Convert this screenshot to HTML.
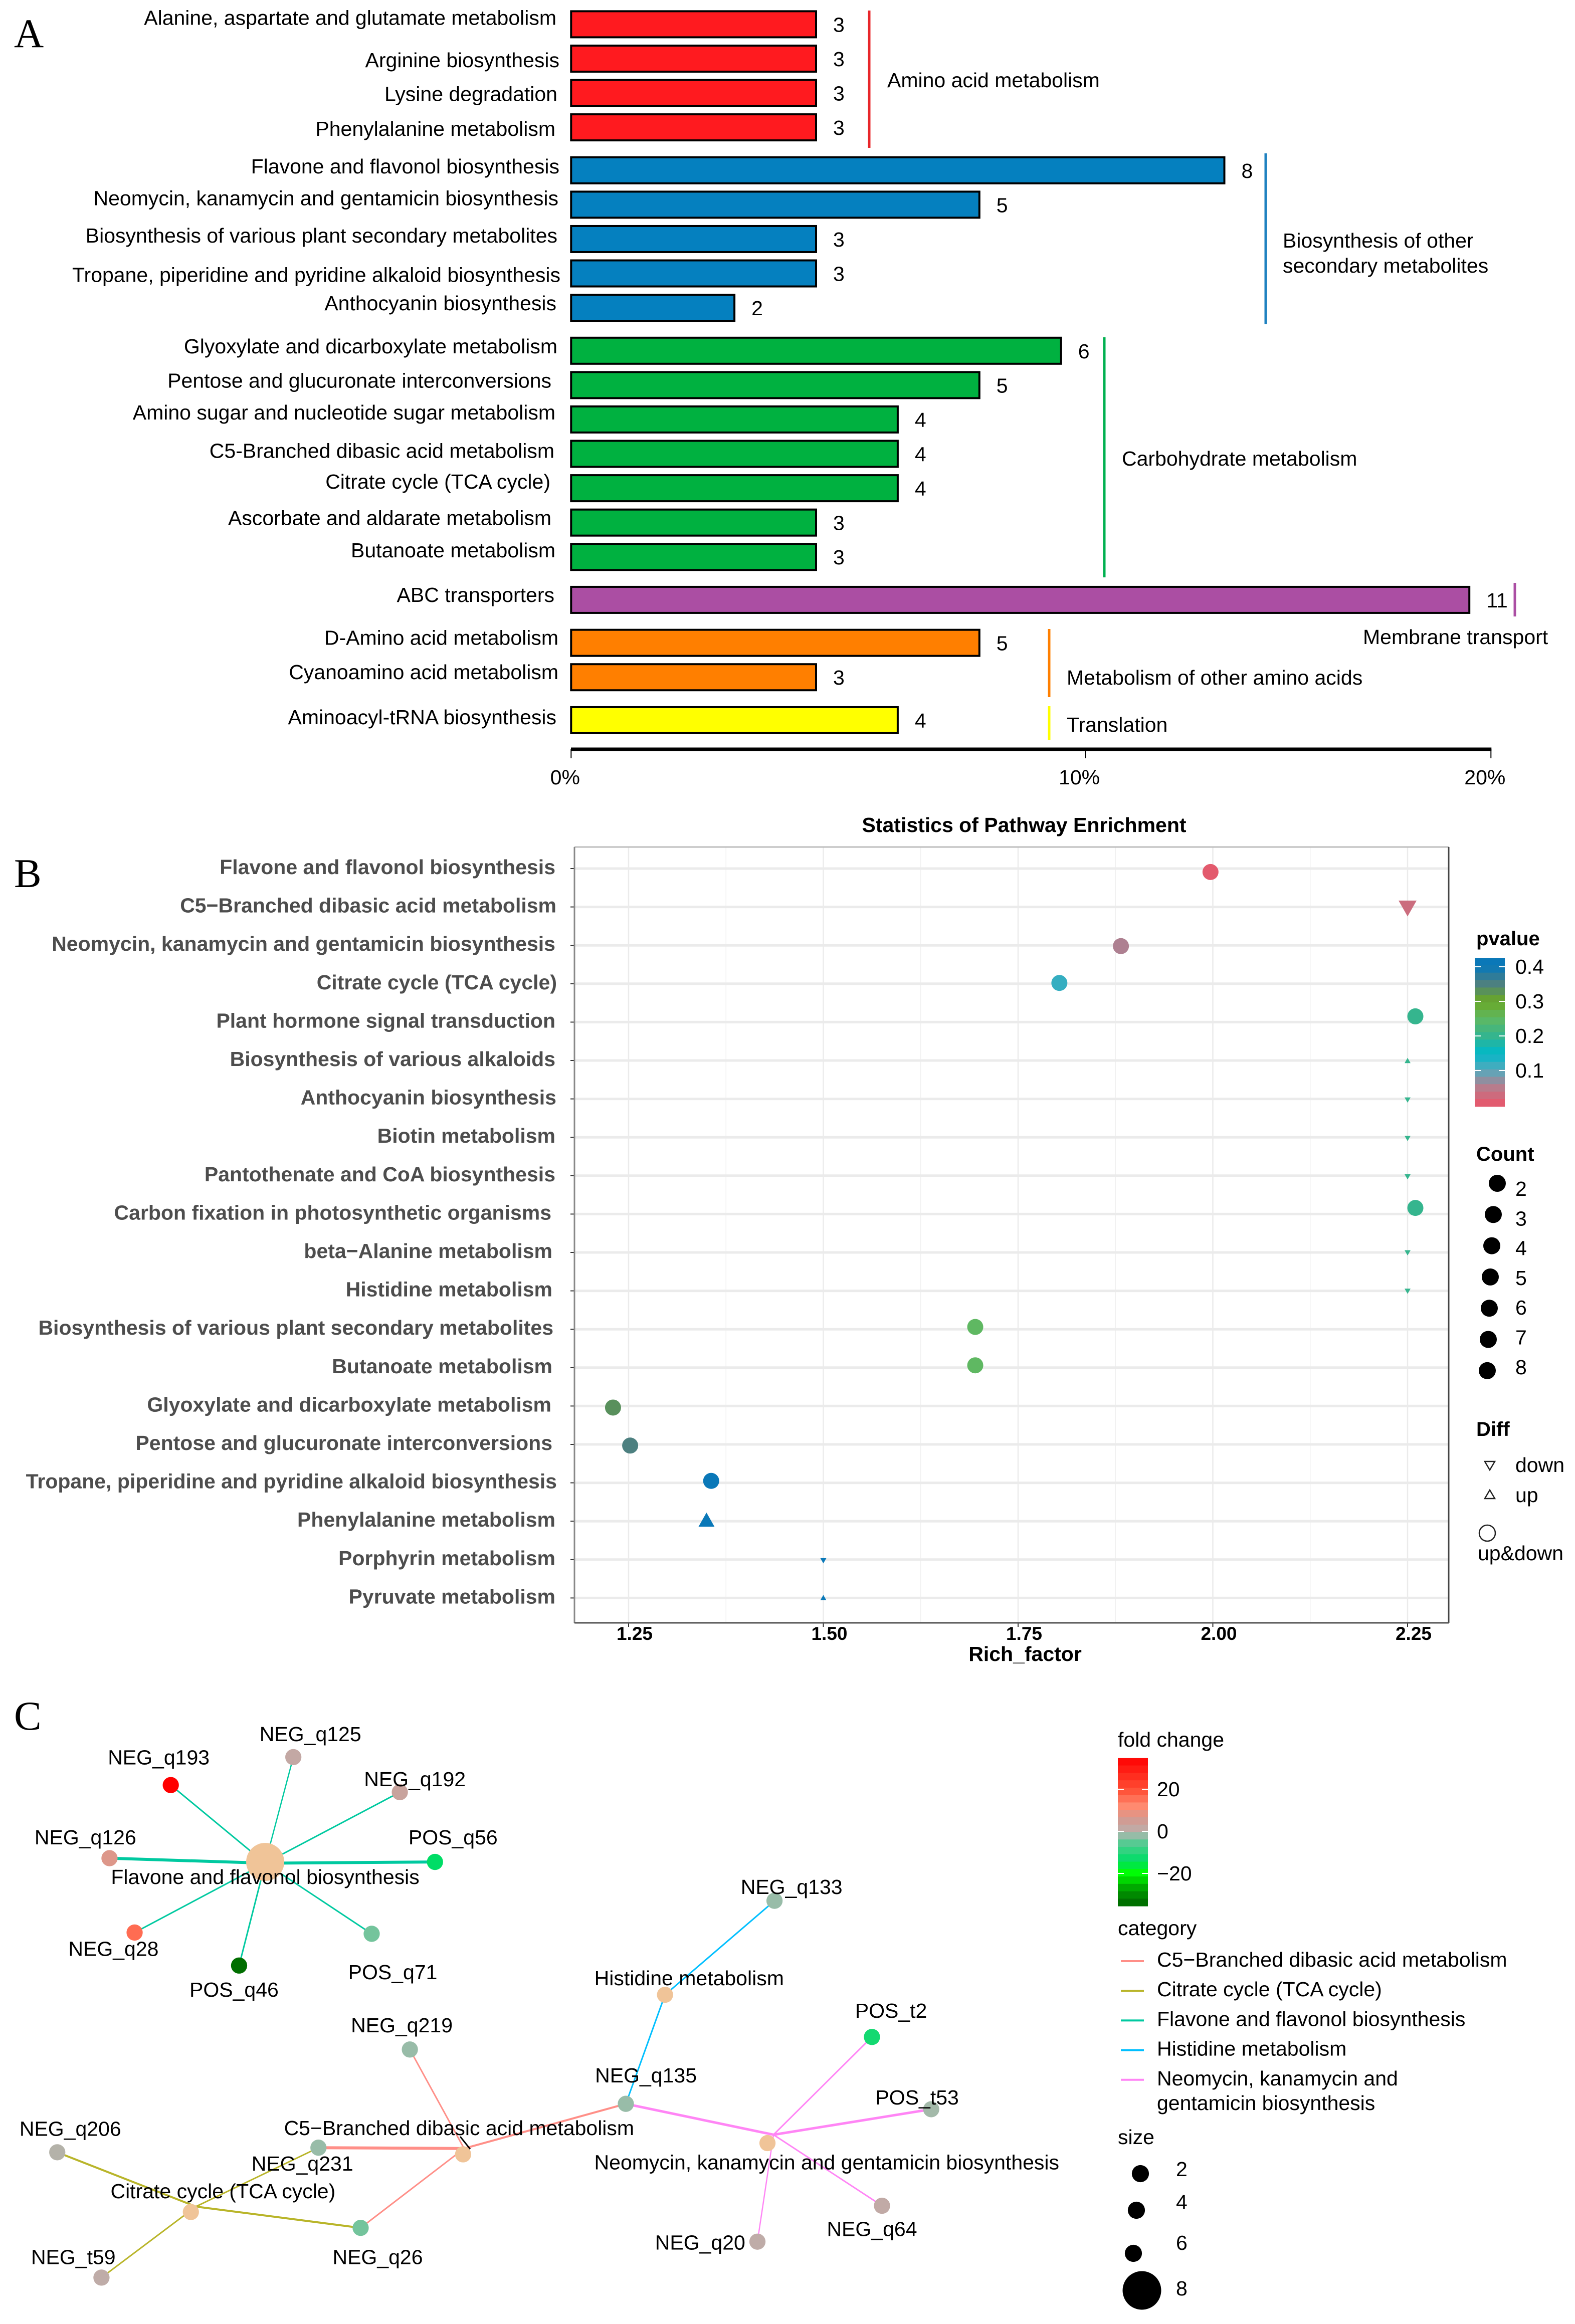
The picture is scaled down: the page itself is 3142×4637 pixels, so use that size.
<!DOCTYPE html>
<html lang="en">
<head>
<meta charset="utf-8">
<title>Pathway enrichment figure</title>
<style>
html,body{margin:0;padding:0;background:#fff;}
svg{display:block;font-family:"Liberation Sans",Arial,sans-serif;}
text{fill:#000;font-size:41px;}
.letter{font-family:"Liberation Serif",serif;font-size:82px;}
.bold{font-weight:bold;}
</style>
</head>
<body>
<svg id="fig" xmlns="http://www.w3.org/2000/svg" width="3142" height="4637" viewBox="0 0 3142 4637">
  <rect x="0" y="0" width="3142" height="4637" fill="#fff"/>

  <!-- Panel letters -->
  <text class="letter" x="28" y="94">A</text>
  <text class="letter" x="28" y="1770">B</text>
  <text class="letter" x="28" y="3451">C</text>

  <!-- Panel A group brackets and labels -->
  <g stroke-width="5">
    <line x1="1734" y1="21" x2="1734" y2="295" stroke="#e8262a"/>
    <line x1="2525" y1="306" x2="2525" y2="647" stroke="#1f82c0"/>
    <line x1="2203" y1="673" x2="2203" y2="1152" stroke="#00b050"/>
    <line x1="3022" y1="1163" x2="3022" y2="1230" stroke="#ab4ea3"/>
    <line x1="2093" y1="1255" x2="2093" y2="1391" stroke="#ff7f00"/>
    <line x1="2093" y1="1409" x2="2093" y2="1477" stroke="#ffff00"/>
  </g>
  <text x="1770" y="174">Amino acid metabolism</text>
  <text x="2559" y="494">Biosynthesis of other</text>
  <text x="2559" y="544">secondary metabolites</text>
  <text x="2238" y="929">Carbohydrate metabolism</text>
  <text x="2719" y="1285">Membrane transport</text>
  <text x="2128" y="1366">Metabolism of other amino acids</text>
  <text x="2128" y="1460">Translation</text>

  <!-- Panel B static text -->
  <text class="bold" x="2043" y="1660" text-anchor="middle">Statistics of Pathway Enrichment</text>
  <text class="bold" x="2045" y="3314" text-anchor="middle">Rich_factor</text>
  <text class="bold" x="2945" y="1886" style="font-size:40px">pvalue</text>
  <text class="bold" x="2945" y="2316" style="font-size:40px">Count</text>
  <text class="bold" x="2945" y="2865" style="font-size:40px">Diff</text>
  <path d="M2962 2916 L2982 2916 L2972 2933 Z" fill="none" stroke="#222" stroke-width="2.5"/>
  <text x="3023" y="2937">down</text>
  <path d="M2962 2990 L2982 2990 L2972 2973 Z" fill="none" stroke="#222" stroke-width="2.5"/>
  <text x="3023" y="2997">up</text>
  <circle cx="2967" cy="3059" r="16" fill="none" stroke="#222" stroke-width="2.5"/>
  <text x="2948" y="3113">up&amp;down</text>

  <!-- Panel C static legend text -->
  <text x="2230" y="3485">fold change</text>
  <text x="2230" y="3861">category</text>
  <text x="2230" y="4278">size</text>
  <text x="2308" y="4210">gentamicin biosynthesis</text>
</svg>

<script>
/* ---------- Panel A data ---------- */
const barCategories = [
  "Alanine, aspartate and glutamate metabolism","Arginine biosynthesis","Lysine degradation","Phenylalanine metabolism",
  "Flavone and flavonol biosynthesis","Neomycin, kanamycin and gentamicin biosynthesis","Biosynthesis of various plant secondary metabolites","Tropane, piperidine and pyridine alkaloid biosynthesis","Anthocyanin biosynthesis",
  "Glyoxylate and dicarboxylate metabolism","Pentose and glucuronate interconversions","Amino sugar and nucleotide sugar metabolism","C5-Branched dibasic acid metabolism","Citrate cycle (TCA cycle)","Ascorbate and aldarate metabolism","Butanoate metabolism",
  "ABC transporters","D-Amino acid metabolism","Cyanoamino acid metabolism","Aminoacyl-tRNA biosynthesis"];
const barCounts = [3,3,3,3,8,5,3,3,2,6,5,4,4,4,3,3,11,5,3,4];
const barGroups = [0,0,0,0,1,1,1,1,1,2,2,2,2,2,2,2,3,4,4,5];
const groupColors = ["#ff1a1f","#0580bf","#00b140","#ab4ea3","#ff7f00","#ffff00"];
const percentTickLabels = ["0%","10%","20%"];
const percentTickValues = [0,11.18,20];
/* hand-placed label layout from the source figure */
const barLabelRight = [1110,1116,1112,1108,1116,1114,1112,1118,1110,1112,1100,1108,1106,1098,1100,1108,1106,1114,1114,1110];
const barLabelShift = [-13,3,2,3,-8,-13,-7,3,-9,-9,-9,-14,-6,-13,-9,-13,-10,-10,-10,-6];

/* ---------- Panel B data ---------- */
const dotCategories = [
  "Flavone and flavonol biosynthesis","C5\u2212Branched dibasic acid metabolism","Neomycin, kanamycin and gentamicin biosynthesis","Citrate cycle (TCA cycle)","Plant hormone signal transduction","Biosynthesis of various alkaloids","Anthocyanin biosynthesis","Biotin metabolism","Pantothenate and CoA biosynthesis","Carbon fixation in photosynthetic organisms","beta\u2212Alanine metabolism","Histidine metabolism","Biosynthesis of various plant secondary metabolites","Butanoate metabolism","Glyoxylate and dicarboxylate metabolism","Pentose and glucuronate interconversions","Tropane, piperidine and pyridine alkaloid biosynthesis","Phenylalanine metabolism","Porphyrin metabolism","Pyruvate metabolism"];
const dotRichFactor = [1.997,2.25,1.882,1.803,2.26,2.25,2.25,2.25,2.25,2.26,2.25,2.25,1.695,1.695,1.23,1.252,1.356,1.35,1.5,1.5];
const dotRowValue = [0.09,1.04,2.02,2.98,3.85,5,6.03,7.03,8.03,8.84,10.01,11.01,11.94,12.94,14.04,15.03,15.95,16.96,18.03,18.99];
const dotPvalue = [0.005,0.03,0.055,0.12,0.2,0.2,0.2,0.2,0.2,0.2,0.2,0.2,0.25,0.25,0.33,0.35,0.4,0.4,0.4,0.4];
const dotSize = [8,9,8,8,8,3,3,3,3,8,3,3,8,8,8,8,8,8,3,3];
const dotDiff = ["both","down","both","both","both","up","down","down","down","both","down","down","both","both","both","both","both","up","down","up"];
const richTickValues = [1.25,1.5,1.75,2,2.25];
const richTickLabels = ["1.25","1.50","1.75","2.00","2.25"];
const richMinorValues = [1.375,1.625,1.875,2.125];
const pvalueTicks = [0.4,0.3,0.2,0.1];
const pvalueTickLabels = ["0.4","0.3","0.2","0.1"];
const pvalueStopsAt = [0,0.05,0.1,0.15,0.2,0.25,0.3,0.35,0.4];
const pvalueStopsColor = ["#e8566a","#b87c8c","#58a8bc","#00b8c8","#35b58e","#5fb862","#6aa825","#4d8080","#0a78b8"];
const countLegendLabels = ["2","3","4","5","6","7","8"];
const bLabelRight = [1108,1110,1108,1111,1108,1108,1110,1108,1108,1100,1102,1102,1104,1102,1100,1102,1111,1108,1108,1108];

/* ---------- Panel C data ---------- */
const nodeLabels = ["Flavone and flavonol biosynthesis","NEG_q193","NEG_q125","NEG_q192","POS_q56","NEG_q126","NEG_q28","POS_q46","POS_q71",
  "Histidine metabolism","NEG_q133","NEG_q135","NEG_q219","NEG_q231","C5\u2212Branched dibasic acid metabolism","NEG_q26","NEG_q206","Citrate cycle (TCA cycle)","NEG_t59",
  "Neomycin, kanamycin and gentamicin biosynthesis","POS_t2","POS_t53","NEG_q64","NEG_q20"];
const nodeLayoutX = [264,170,292,398,433,109,134,238,370,662,771,623,408,317,461,359,57,190,101,764,868,927,878,754];
const nodeLayoutY = [462,278,211,295,462,453,631,710,634,780,555,1041,911,1146,1162,1338,1157,1300,1457,1135,881,1054,1285,1371];
const nodeFold = [null,35,1.5,3,-14,7,16,-34,-4,null,-2,-2,-2,-2,null,-4,0,null,0.5,null,-12,-1,1,0.5];
const nodeSizes = [8,3.4,3.4,3.4,3.4,3.4,3.4,3.4,3.4,3.4,3.4,3.4,3.4,3.4,3.4,3.4,3.4,3.4,3.4,3.4,3.4,3.4,3.4,3.4];
const nodeLabelX = [264,158,309,413,451,85,113,233,391,686,788,643,400,301,457,376,70,222,73,823,887,913,868,697];
const nodeLabelY = [498,212,156,264,403,403,670,768,726,740,522,973,853,1184,1099,1408,1101,1250,1408,1181,818,1026,1341,1373];
const edgeHubX = [264,264,264,264,264,264,264,264, 462,462,462,462, 195,195,195,195, 662,662, 770,770,770,770,770];
const edgeHubY = [465,465,465,465,465,465,465,465, 1148,1148,1148,1148, 1287,1287,1287,1287, 780,780, 1115,1115,1115,1115,1115];
const edgeLeaf = [1,2,3,4,5,6,7,8, 12,13,15,11, 16,13,15,18, 10,11, 11,20,21,22,23];
const edgeCategory = [2,2,2,2,2,2,2,2, 0,0,0,0, 1,1,1,1, 3,3, 4,4,4,4,4];
const edgeWeight = [3,2.5,3,6,6,3,3,3, 3,6,3,4, 4,3,4,3, 3,3, 5,3,5,3,2.5];
const categoryNames = ["C5\u2212Branched dibasic acid metabolism","Citrate cycle (TCA cycle)","Flavone and flavonol biosynthesis","Histidine metabolism","Neomycin, kanamycin and"];
const categoryColors = ["#ff8f88","#b9b52a","#00c9a0","#00bfff","#ff85f5"];
const foldTicks = [20,0,-20];
const foldTickLabels = ["20","0","\u221220"];
const foldStopsAt = [-36,-28,-20,-14,-6,-2,-0.5,0.5,5,12,20,35];
const foldStopsColor = ["#006000","#009900","#00ff00","#00dd66","#50cc90","#98bca8","#a8b8aa","#bfaca8","#d09c94","#ff8a70","#ff4d33","#ff0000"];
const sizeLegendLabels = ["2","4","6","8"];
const sizeLegendValues = [3.6,3.6,3.6,8.1];

/* ---------- helpers ---------- */
const svg = document.getElementById('fig');
const NS = 'http://www.w3.org/2000/svg';
function add(parent, tag, attrs, txt) {
  const el = document.createElementNS(NS, tag);
  for (const k in attrs) el.setAttribute(k, attrs[k]);
  if (txt !== undefined) el.textContent = txt;
  parent.appendChild(el);
  return el;
}
function slug(s) { return String(s).toLowerCase().replace(/[^a-z0-9]+/g, '-').replace(/^-|-$/g, ''); }
function hexRgb(h) { return [1,3,5].map(i => parseInt(h.substr(i,2),16)); }
function ramp(stopsAt, stopsColor, v) {
  if (v <= stopsAt[0]) return stopsColor[0];
  for (let i = 1; i < stopsAt.length; i++) {
    if (v <= stopsAt[i]) {
      const t = (v - stopsAt[i-1]) / (stopsAt[i] - stopsAt[i-1]);
      const a = hexRgb(stopsColor[i-1]), b = hexRgb(stopsColor[i]);
      return 'rgb(' + a.map((c,j) => Math.round(c + (b[j]-c)*t)).join(',') + ')';
    }
  }
  return stopsColor[stopsColor.length-1];
}

/* ---------- Panel A ---------- */
const barX = c => 1139.3 + c * 162.9;
const percentX = p => 1139.3 + p * 91.75;
const barTop = i => 20.4 + i * 68.57 + barGroups[i] * 17.14;
const BAR_H = 56;
const gA = add(svg, 'g', {});


barCategories.forEach((cat, i) => {
  const top = barTop(i), mid = top + BAR_H / 2;
  const bar = add(gA, 'rect', {x: 1139.3, y: top + 2, width: barX(barCounts[i]) - 1139.3, height: BAR_H - 4, fill: groupColors[barGroups[i]], stroke: '#000', 'stroke-width': 4});
  
  
  const lab = add(gA, 'text', {x: barLabelRight[i], y: mid + barLabelShift[i] + 14, 'text-anchor': 'end'}, cat);
  
  
  const val = add(gA, 'text', {x: barX(barCounts[i]) + 34, y: mid + 15}, String(barCounts[i]));
  
  
});
const axA = add(gA, 'line', {x1: 1139, x2: percentX(20) + 1, y1: 1495, y2: 1495, stroke: '#000', 'stroke-width': 7});


percentTickValues.forEach((p, i) => {
  const tick = add(gA, 'line', {x1: percentX(p), x2: percentX(p), y1: 1495, y2: 1513, stroke: '#000', 'stroke-width': 2});
  
  
  const lab = add(gA, 'text', {x: percentX(p) - 12, y: 1565, 'text-anchor': 'middle'}, percentTickLabels[i]);
  
  
});

/* ---------- Panel B ---------- */
const richX = v => 1254 + (v - 1.25) * 1554;
const rowY = r => 1733 + r * 76.6;
const pvalueY = v => 2136 - (v - 0.1) * 690;
const gB = add(svg, 'g', {});


const P = {l: 1146, r: 2890, t: 1690, b: 3238};
richMinorValues.forEach(v => {
  const g = add(gB, 'line', {x1: richX(v), x2: richX(v), y1: P.t, y2: P.b, stroke: '#f0f0f0', 'stroke-width': 1.5});
  
  
});
richTickValues.forEach((v, i) => {
  const g = add(gB, 'line', {x1: richX(v), x2: richX(v), y1: P.t, y2: P.b, stroke: '#ebebeb', 'stroke-width': 2.5});
  
  
  const t = add(gB, 'line', {x1: richX(v), x2: richX(v), y1: P.b, y2: P.b + 8, stroke: '#333', 'stroke-width': 2});
  
  
  const lab = add(gB, 'text', {x: richX(v) + 12, y: 3272, 'text-anchor': 'middle', 'class': 'bold', style: 'font-size:37px'}, richTickLabels[i]);
  
  
});
dotCategories.forEach((cat, i) => {
  const y = rowY(i);
  const g = add(gB, 'line', {x1: P.l, x2: P.r, y1: y, y2: y, stroke: '#ebebeb', 'stroke-width': 5});
  
  
  const t = add(gB, 'line', {x1: P.l - 8, x2: P.l, y1: y, y2: y, stroke: '#333', 'stroke-width': 2});
  
  
  const lab = add(gB, 'text', {x: bLabelRight[i], y: y + 11, 'text-anchor': 'end', 'class': 'bold', style: 'fill:#4d4d4d'}, cat);
  
  
});
[['panel-border-top', P.l, P.t, P.r, P.t, '#bdbdbd'], ['panel-border-left', P.l, P.t, P.l, P.b, '#888'], ['panel-border-right', P.r, P.t, P.r, P.b, '#444'], ['panel-border-bottom', P.l, P.b, P.r, P.b, '#555']].forEach(b => {
  const ln = add(gB, 'line', {x1: b[1], y1: b[2], x2: b[3], y2: b[4], stroke: b[5], 'stroke-width': 3});
  
  
});
dotCategories.forEach((cat, i) => {
  const cx = richX(dotRichFactor[i]), cy = rowY(dotRowValue[i]);
  const w = dotSize[i] * 4, col = ramp(pvalueStopsAt, pvalueStopsColor, dotPvalue[i]);
  let mark;
  if (dotDiff[i] === 'both') {
    mark = add(gB, 'circle', {cx: cx, cy: cy, r: w / 2, fill: col});
  } else {
    const h = w * 0.88, s = dotDiff[i] === 'up' ? -1 : 1;
    const pts = [[cx - w/2, cy - s*h/2], [cx + w/2, cy - s*h/2], [cx, cy + s*h/2]];
    mark = add(gB, 'polygon', {points: pts.map(p => p.join(',')).join(' '), fill: col});
  }
  
  
});

/* pvalue colour bar */
const pBar = add(gB, 'g', {});


const P_BINS = 20, P_MAX = 0.426, P_MIN = -0.004;
for (let i = 0; i < P_BINS; i++) {
  const hi = P_MAX - (P_MAX - P_MIN) * i / P_BINS, lo = P_MAX - (P_MAX - P_MIN) * (i + 1) / P_BINS;
  const band = add(pBar, 'rect', {x: 2942, width: 60, y: pvalueY(hi), height: pvalueY(lo) - pvalueY(hi) + 0.5, fill: ramp(pvalueStopsAt, pvalueStopsColor, (hi + lo) / 2)});
  
  
}
pvalueTicks.forEach((v, i) => {
  const t1 = add(pBar, 'line', {x1: 2942, x2: 2954, y1: pvalueY(v), y2: pvalueY(v), stroke: '#fff', 'stroke-width': 2});
  
  
  const t2 = add(pBar, 'line', {x1: 2990, x2: 3002, y1: pvalueY(v), y2: pvalueY(v), stroke: '#fff', 'stroke-width': 2});
  
  
  const lab = add(pBar, 'text', {x: 3023, y: pvalueY(v) + 14}, pvalueTickLabels[i]);
  
  
});
/* count legend */
countLegendLabels.forEach((c, i) => {
  const dotsX = 2987 - [0,8,11,14,16,18,20][i];
  const dot = add(gB, 'circle', {cx: dotsX, cy: 2361 + 62.3 * i, r: 17, fill: '#000'});
  
  
  const lab = add(gB, 'text', {x: 3023, y: 2386 + 59.3 * i}, c);
  
  
});

/* ---------- Panel C ---------- */
const netX = v => v * 2.004;
const netY = v => 3330 + v * 0.8335;
const foldY = v => 3654 - v * 4.2;
const gC = add(svg, 'g', {});


edgeLeaf.forEach((leaf, i) => {
  const e = add(gC, 'line', {x1: netX(edgeHubX[i]), y1: netY(edgeHubY[i]), x2: netX(nodeLayoutX[leaf]), y2: netY(nodeLayoutY[leaf]), stroke: categoryColors[edgeCategory[i]], 'stroke-width': edgeWeight[i]});
  
  
});
const stray = add(gC, 'line', {x1: 918, y1: 4263, x2: 938, y2: 4288, stroke: '#000', 'stroke-width': 3});


nodeLabels.forEach((label, i) => {
  const col = nodeFold[i] === null ? '#f0c498' : ramp(foldStopsAt, foldStopsColor, nodeFold[i]);
  const n = add(gC, 'circle', {cx: netX(nodeLayoutX[i]), cy: netY(nodeLayoutY[i]), r: nodeSizes[i] * 4.75, fill: col});
  
  
});
nodeLabels.forEach((label, i) => {
  const t = add(gC, 'text', {x: netX(nodeLabelX[i]), y: netY(nodeLabelY[i]) + 14, 'text-anchor': 'middle'}, label);
  
  
});
/* fold change colour bar */
const fBar = add(gC, 'g', {});


const F_BINS = 20, F_MAX = 34.8, F_MIN = -35.5;
for (let i = 0; i < F_BINS; i++) {
  const hi = F_MAX - (F_MAX - F_MIN) * i / F_BINS, lo = F_MAX - (F_MAX - F_MIN) * (i + 1) / F_BINS;
  const band = add(fBar, 'rect', {x: 2230, width: 60, y: foldY(hi), height: foldY(lo) - foldY(hi) + 0.5, fill: ramp(foldStopsAt, foldStopsColor, (hi + lo) / 2)});
  
  
}
foldTicks.forEach((v, i) => {
  const t1 = add(fBar, 'line', {x1: 2230, x2: 2242, y1: foldY(v), y2: foldY(v), stroke: '#fff', 'stroke-width': 2});
  
  
  const t2 = add(fBar, 'line', {x1: 2278, x2: 2290, y1: foldY(v), y2: foldY(v), stroke: '#fff', 'stroke-width': 2});
  
  
  const lab = add(fBar, 'text', {x: 2308, y: foldY(v) + 14}, foldTickLabels[i]);
  
  
});
/* category legend */
categoryNames.forEach((name, i) => {
  const y = 3913 + 59.2 * i;
  const ln = add(gC, 'line', {x1: 2236, x2: 2282, y1: y, y2: y, stroke: categoryColors[i], 'stroke-width': 4});
  
  
  const t = add(gC, 'text', {x: 2308, y: y + 11}, name);
  
  
});
/* size legend */
sizeLegendLabels.forEach((s, i) => {
  const cx = [2275,2267,2261,2278][i], cy = [4337,4410,4496,4570][i], ly = [4342,4408,4489,4580][i];
  const d = add(gC, 'circle', {cx: cx, cy: cy, r: sizeLegendValues[i] * 4.75, fill: '#000'});
  
  
  const t = add(gC, 'text', {x: 2346, y: ly}, s);
  
  
});
</script>
</body>
</html>
